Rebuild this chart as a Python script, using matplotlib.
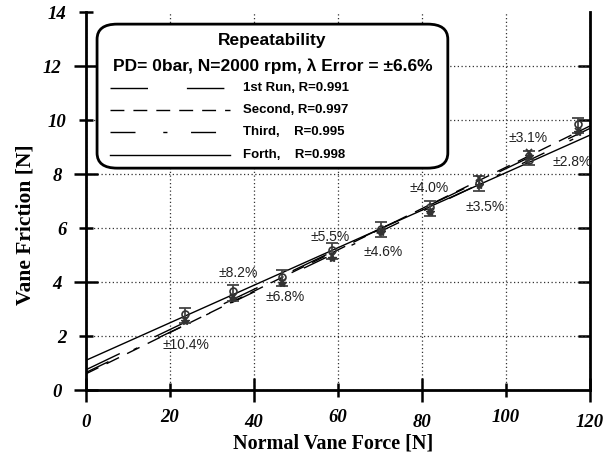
import numpy as np
import matplotlib.pyplot as plt
from matplotlib.patches import FancyBboxPatch

# normal vane force [N] and vane friction [N] for the repeatability runs
force = [23.5, 35.0, 46.7, 58.6, 70.3, 81.9, 93.6, 105.4, 117.1]
fric_mean = [2.75, 3.6, 4.15, 5.15, 5.95, 6.72, 7.65, 8.6, 9.8]
fric_circ = [2.82, 3.68, 4.2, 5.2, 5.97, 6.76, 7.68, 8.52, 9.85]
fric_cross = [2.6, 3.45, 4.0, 4.95, 5.9, 6.62, 7.85, 8.8, 9.6]
fric_star = [2.55, 3.4, 3.95, 4.9, 5.85, 6.6, 7.6, 8.65, 9.55]
err_pct = [10.4, 8.2, 6.8, 5.5, 4.6, 4.0, 3.5, 3.1, 2.8]
lab_x = [23.8, 36.2, 47.4, 58.1, 70.7, 81.7, 95.0, 105.2, 115.7]
lab_y = [1.67, 4.33, 3.44, 5.67, 5.11, 7.48, 6.78, 9.33, 8.44]

# linear fits per run
runs = ['1st Run, R=0.991', 'Second, R=0.997', 'Third,    R=0.995', 'Forth,    R=0.998']
icpt = [0.75, 0.6, 0.65, 1.1]
slope = [0.0745, 0.0765, 0.0745, 0.0695]
styles = [(0, (27, 28)), (0, (10, 6.5)), (0, (18, 20, 3, 17)), '-']

fig = plt.figure(figsize=(6.05, 4.59), dpi=100)
ax = fig.add_axes([0.1421, 0.1503, 0.833, 0.8235])

xs = np.array([0, 120])
for a, b, ls in zip(icpt, slope, styles):
    ax.plot(xs, a + b * xs, color='black', lw=1.0, linestyle=ls, zorder=3)

err = np.array(fric_mean) * np.array(err_pct) / 100
ax.errorbar(force, fric_mean, yerr=err, fmt='none', ecolor='#444444',
            elinewidth=1.3, capsize=4, capthick=1.3, zorder=4)
ax.plot(force, fric_circ, 'o', ms=5, mfc='none', mec='#333333', mew=1.2, zorder=5)
ax.plot(force, fric_cross, 'x', ms=5, color='#333333', mew=1.3, zorder=5)
ax.plot(force, fric_star, '*', ms=6, color='#333333', zorder=5)

# error percentage labels
for x, y, p in zip(lab_x, lab_y, err_pct):
    ax.text(x, y, '\u00b1%.1f%%' % p, ha='center', va='center',
            fontsize=10, family='Liberation Sans', color='#222222', zorder=9)

ax.set_xlim(0, 120)
ax.set_ylim(0, 14)

serif_bi = dict(family='Liberation Serif', weight='bold', style='italic', size=13.5)
ax.set_xticks([0, 40, 80, 120], labels=['0', '40', '80', '120'], **serif_bi)
ax.set_xticks([20, 60, 100], labels=['20', '60', '100'], minor=True, **serif_bi)
ax.set_yticks([0, 4, 8, 12], labels=['0', '4', '8', '12'], **serif_bi)
ax.set_yticks([2, 6, 10, 14], labels=['2', '6', '10', '14'], minor=True, **serif_bi)
ax.tick_params(which='major', direction='inout', length=17, width=1.8, pad=9)
ax.tick_params(which='minor', direction='inout', length=10, width=1.8, pad=9)

ax.grid(True, which='both', linestyle=(0, (1, 2)), color='#333333', lw=0.9)
ax.set_axisbelow(True)
ax.yaxis.get_minor_ticks()[-1].gridline.set_visible(False)

for s in ['left', 'bottom', 'right']:
    ax.spines[s].set_linewidth(2)
ax.spines['top'].set_visible(False)

rax = ax.secondary_yaxis('right')
rax.set_yticks([2, 4, 6, 8, 10, 12])
rax.tick_params(direction='in', length=9, width=1.8, labelright=False)
rax.spines['right'].set_visible(False)

ax.set_xlabel('Normal Vane Force [N]', family='Liberation Serif', weight='bold', size=14.5)
ax.set_ylabel('Vane Friction [N]', family='Liberation Serif', weight='bold', size=15.5)
ax.xaxis.set_label_coords(0.49, -0.116)
ax.yaxis.set_label_coords(-0.101, 0.437)

# legend box
box = FancyBboxPatch((0.022, 0.587), 0.696, 0.381, transform=ax.transAxes,
                     boxstyle='round,pad=0,rounding_size=0.04', fc='white',
                     ec='black', lw=2, zorder=7)
ax.add_patch(box)
ax.text(0.37, 0.925, 'Repeatability', transform=ax.transAxes, ha='center',
        va='center', family='Liberation Sans', weight='bold', size=12.5, zorder=8)
ax.text(0.37, 0.857, 'PD= 0bar, N=2000 rpm, \u03bb Error = \u00b16.6%',
        transform=ax.transAxes, ha='center', va='center',
        family='Liberation Sans', weight='bold', size=12.5, zorder=8)
ly = [0.800, 0.741, 0.683, 0.622]
for name, ls, yy in zip(runs, styles, ly):
    ax.plot([0.048, 0.286], [yy, yy], transform=ax.transAxes, color='black',
            lw=1.0, linestyle=ls, zorder=8)
    ax.text(0.311, yy, name, transform=ax.transAxes, ha='left', va='center',
            family='Liberation Sans', weight='bold', size=9.5, zorder=8)

fig.savefig('out.png', dpi=100)
